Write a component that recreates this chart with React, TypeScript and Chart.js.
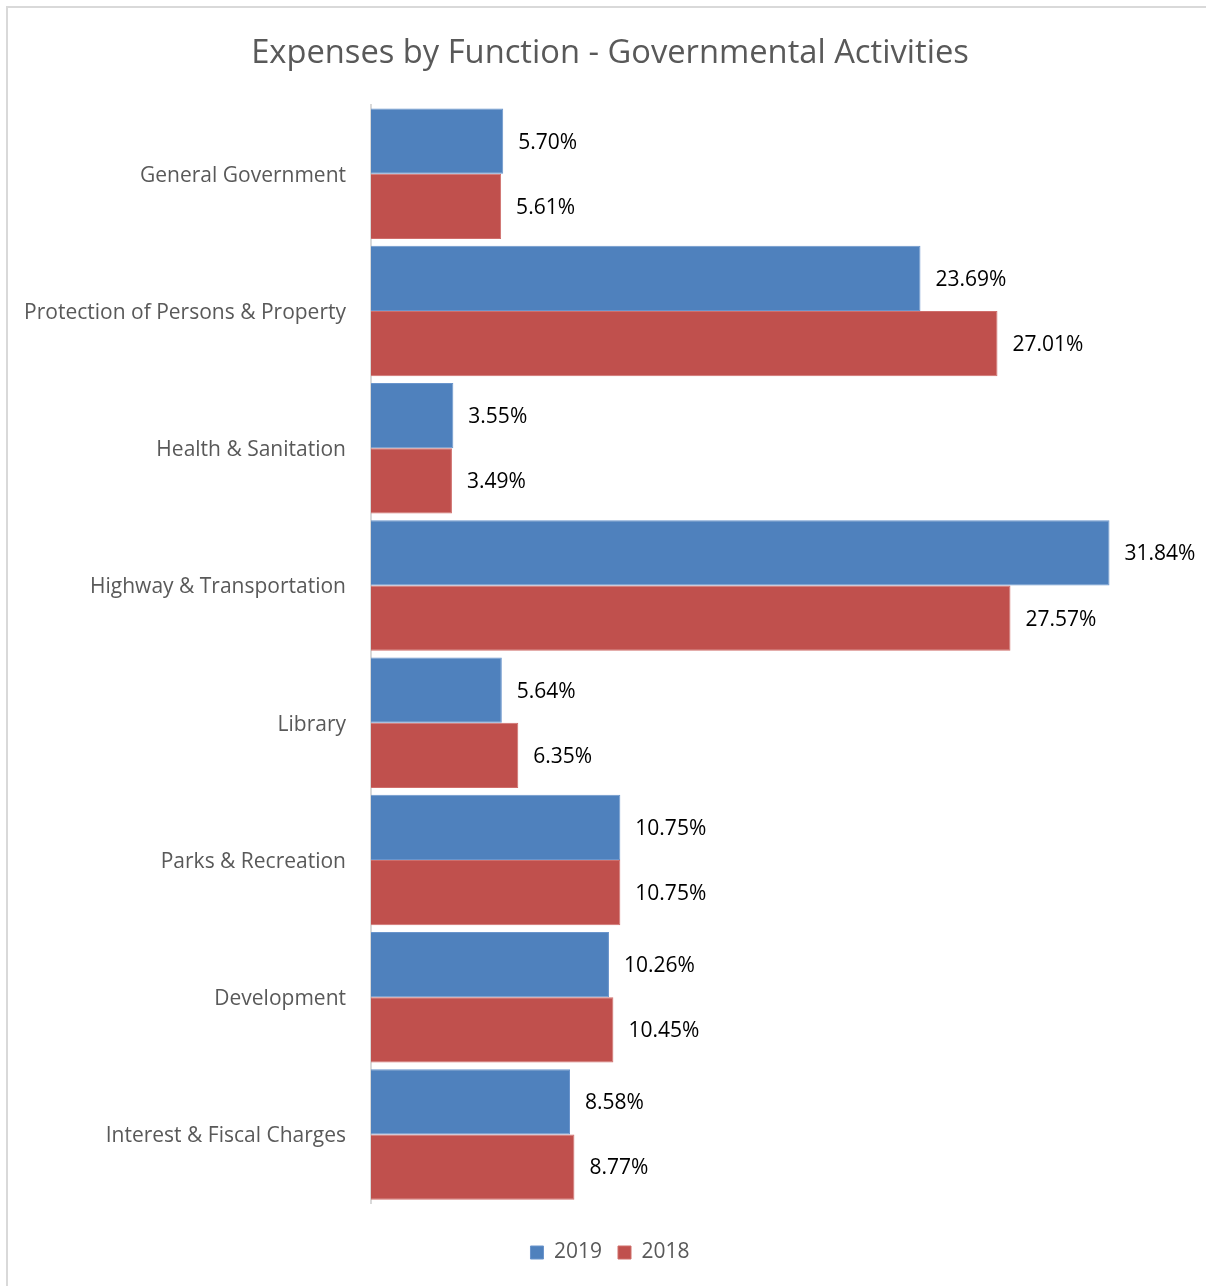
import React, { useEffect, useRef } from "react";
import { Chart, registerables } from "chart.js";

Chart.register(...registerables);

const categories = [
  "General Government",
  "Protection of Persons & Property",
  "Health & Sanitation",
  "Highway & Transportation",
  "Library",
  "Parks & Recreation",
  "Development",
  "Interest & Fiscal Charges",
];
const values2019 = [5.70, 23.69, 3.55, 31.84, 5.64, 10.75, 10.26, 8.58];
const values2018 = [5.61, 27.01, 3.49, 27.57, 6.35, 10.75, 10.45, 8.77];
const seriesLabels = ["2019", "2018"];
const titleText = "Expenses by Function - Governmental Activities";

const FONT = "'Open Sans', 'DejaVu Sans', sans-serif";

const dataLabelPlugin = {
  id: "dataLabels",
  afterDatasetsDraw(chart: any) {
    const ctx = chart.ctx;
    ctx.save();
    ctx.font = `21px ${FONT}`;
    ctx.fillStyle = "#000000";
    ctx.textAlign = "left";
    ctx.textBaseline = "middle";
    chart.data.datasets.forEach((ds: any, di: number) => {
      const meta = chart.getDatasetMeta(di);
      meta.data.forEach((bar: any, i: number) => {
        const v = ds.data[i] as number;
        ctx.fillText(v.toFixed(2) + "%", bar.x + 15, bar.y + 1.5);
      });
    });
    ctx.restore();
  },
};

export default function App() {
  const ref = useRef<HTMLCanvasElement>(null);
  useEffect(() => {
    if (!ref.current) return;
    const chart = new Chart(ref.current, {
      type: "bar",
      data: {
        labels: categories,
        datasets: [
          {
            label: seriesLabels[0],
            data: values2019,
            backgroundColor: "#4F81BD",
            borderColor: "#6A95CC",
            borderWidth: 1,
            categoryPercentage: 0.951,
            barPercentage: 1,
          },
          {
            label: seriesLabels[1],
            data: values2018,
            backgroundColor: "#C0504D",
            borderColor: "#CF6E6B",
            borderWidth: 1,
            categoryPercentage: 0.951,
            barPercentage: 1,
          },
        ],
      },
      options: {
        indexAxis: "y",
        animation: false,
        responsive: false,
        maintainAspectRatio: false,
        devicePixelRatio: 1,
        layout: { padding: { left: 14, right: 0, top: 0, bottom: 13 } },
        scales: {
          x: {
            display: true,
            min: 0,
            max: 36,
            grid: { display: false, drawTicks: false },
            border: { display: false },
            ticks: { display: false },
            afterFit(scale: any) {
              scale.height = 23;
            },
          },
          y: {
            grid: { display: false, drawTicks: false },
            border: { display: true, color: "#D9D9D9", width: 2 },
            ticks: {
              color: "#595959",
              font: { family: FONT, size: 21 },
              padding: 25,
              labelOffset: 2,
            },
            afterFit(scale: any) {
              scale.width = 357;
            },
          },
        },
        plugins: {
          title: {
            display: true,
            text: titleText,
            color: "#595959",
            font: { family: FONT, size: 32.7, weight: "normal" },
            padding: { top: 34, bottom: 32 },
          },
          legend: {
            position: "bottom",
            labels: {
              color: "#595959",
              font: { family: FONT, size: 21 },
              boxWidth: 13,
              boxHeight: 13,
              padding: 16,
            },
          },
          tooltip: { enabled: false },
        },
      },
      plugins: [dataLabelPlugin],
    });
    return () => chart.destroy();
  }, []);

  return (
    <div style={{ position: "fixed", left: 0, top: 0, width: 1206, height: 1286, background: "#fff" }}>
      <div
        style={{
          position: "fixed",
          left: 6,
          top: 6,
          right: -20,
          bottom: -20,
          border: "2px solid #D9D9D9",
        }}
      />
      <canvas ref={ref} width={1206} height={1286} style={{ position: "absolute", left: 0, top: 0, width: 1206, height: 1286 }} />
    </div>
  );
}
